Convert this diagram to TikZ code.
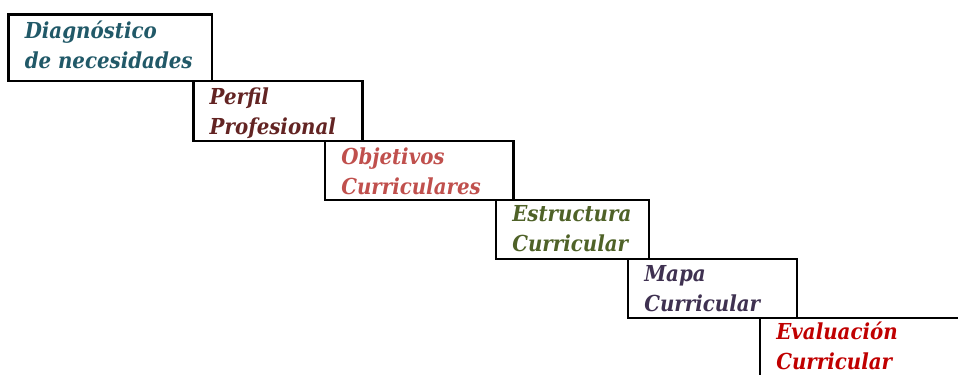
\documentclass[tikz,border=0pt]{standalone}
\usepackage{fontspec}
\setmainfont{DejaVu Serif Condensed}
\usepackage{xcolor}
\usepackage{tikz}
\usetikzlibrary{positioning}

\definecolor{diagcol}{HTML}{215968}
\definecolor{perfcol}{HTML}{632423}
\definecolor{objcol}{HTML}{C0504D}
\definecolor{estcol}{HTML}{4F6228}
\definecolor{mapcol}{HTML}{3F3151}
\definecolor{evalcol}{HTML}{C00000}

\begin{document}
\begin{tikzpicture}[
                stepbox/.style={rectangle, draw, line width=1.6pt, anchor=north west, inner sep=0pt, outer sep=0pt},
                steptext/.style={anchor=north west, inner sep=0pt, align=left, font=\fontsize{16.5}{22.5}\selectfont\bfseries\itshape}
            ]
                \useasboundingbox (0,0) rectangle (718.5pt,-281.25pt);
                \clip (0,0) rectangle (718.5pt,-281.25pt);

                % Steps
                \node[stepbox, minimum width=152.6pt, minimum height=49.9pt] (diag) at (6.4pt,-10.9pt) {};
                \node[stepbox, minimum width=126.75pt, minimum height=45pt, below right=0pt and -13.9pt of diag.south east] (perf) {};
                \node[stepbox, minimum width=141.4pt, minimum height=43.9pt, below right=0pt and -28.1pt of perf.south east] (obj) {};
                \node[stepbox, minimum width=114.75pt, minimum height=44.6pt, below right=0pt and -13.1pt of obj.south east] (est) {};
                \node[stepbox, minimum width=126.75pt, minimum height=44.25pt, below right=0pt and -15.75pt of est.south east] (map) {};
                \node[stepbox, minimum width=300pt, minimum height=100pt, below right=0pt and -27.75pt of map.south east] (eval) {};

                % Labels
                \node[steptext, text=diagcol, below right=4.5pt and 12pt of diag.north west] (diagtxt) {Diagnóstico\\de necesidades};
                \node[steptext, text=perfcol, below right=4.5pt and 12pt of perf.north west] (perftxt) {Perfil\\Profesional};
                \node[steptext, text=objcol, below right=4.5pt and 12pt of obj.north west] (objtxt) {Objetivos\\Curriculares};
                \node[steptext, text=estcol, below right=4.5pt and 12pt of est.north west] (esttxt) {Estructura\\Curricular};
                \node[steptext, text=mapcol, below right=4.5pt and 12pt of map.north west] (maptxt) {Mapa\\Curricular};
                \node[steptext, text=evalcol, below right=3pt and 12pt of eval.north west] (evaltxt) {Evaluación\\Curricular};
            \end{tikzpicture}
\end{document}
